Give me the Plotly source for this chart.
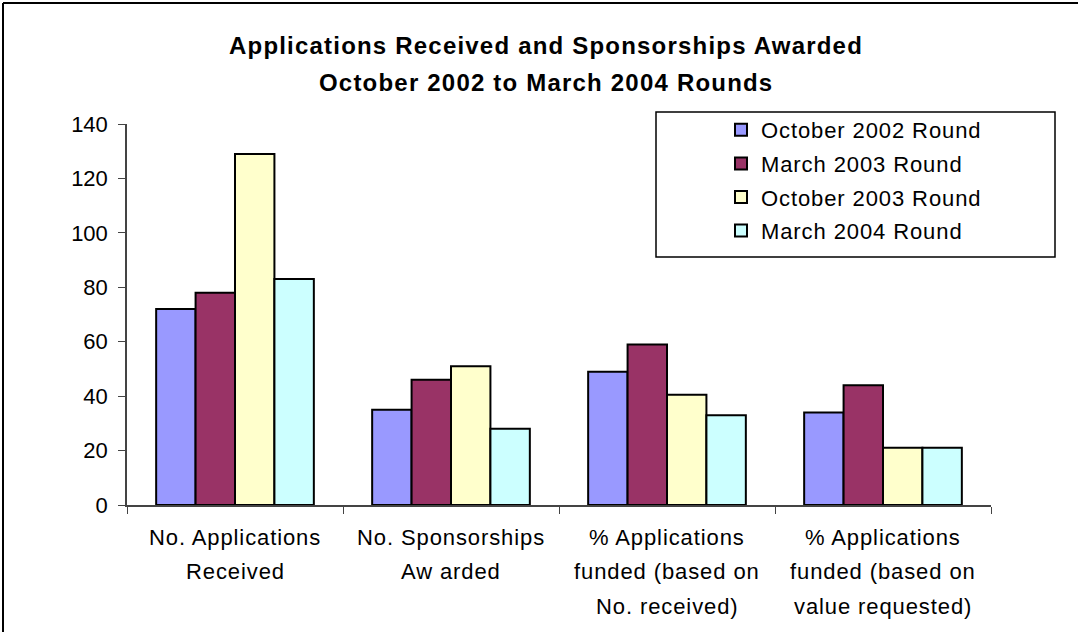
import plotly.graph_objects as go

categories = ["No. Applications Received", "No. Sponsorships Awarded",
              "% Applications funded (based on No. received)",
              "% Applications funded (based on value requested)"]
label_lines = [["No. Applications", "Received"],
               ["No. Sponsorships", "Aw arded"],
               ["% Applications", "funded (based on", "No. received)"],
               ["% Applications", "funded (based on", "value requested)"]]
series_names = ["October 2002 Round", "March 2003 Round", "October 2003 Round", "March 2004 Round"]
oct2002 = [72, 35, 49, 34]
mar2003 = [78, 46, 59, 44]
oct2003 = [129, 51, 40.5, 21]
mar2004 = [83, 28, 33, 21]
colors = ["#9999FF", "#993366", "#FFFFCC", "#CCFFFF"]
title_lines = ["Applications Received and Sponsorships Awarded",
               "October 2002 to March 2004 Rounds"]

FONT = "Liberation Sans, Arial, sans-serif"
W, H = 1078, 632
L, R, T, B = 127, 87, 124, 127
PW, PH = W - L - R, H - T - B


def px(x):
    return (x - L) / PW


def py(y):
    return (H - B - y) / PH


def spaced(txt, ls):
    return '<span style="letter-spacing:%spx">%s</span>' % (ls, txt)


fig = go.Figure()
for i, (name, vals) in enumerate(zip(series_names, [oct2002, mar2003, oct2003, mar2004])):
    fig.add_trace(go.Bar(
        x=categories, y=vals, name=spaced(name, 0.9), legendgroup=name,
        marker=dict(color=colors[i], line=dict(color="black", width=2)),
    ))

fig.update_layout(
    width=W, height=H,
    margin=dict(l=L, r=R, t=T, b=B, autoexpand=False),
    paper_bgcolor="white", plot_bgcolor="white",
    barmode="group", bargap=0.27, bargroupgap=0,
    font=dict(family=FONT, size=22, color="black"),
    showlegend=True,
    legend=dict(x=px(721), y=py(109), xanchor="left", yanchor="top",
                bgcolor="rgba(0,0,0,0)", borderwidth=0,
                traceorder="grouped", tracegroupgap=2,
                font=dict(family=FONT, size=22, color="black")),
    xaxis=dict(type="category", showticklabels=False, ticks="outside", ticklen=7,
               tickson="boundaries", tickcolor="#444", linecolor="#444", linewidth=1.5,
               showline=True, showgrid=False, zeroline=False, fixedrange=True),
    yaxis=dict(range=[0, 140], dtick=20, ticks="outside", ticklen=7, tickcolor="#444",
               showline=True, linecolor="#444", linewidth=1.5, showgrid=False,
               zeroline=False, tickfont=dict(family=FONT, size=22, color="black"),
               ticklabelstandoff=6, fixedrange=True),
)

# title
for txt, yc in zip(title_lines, [46, 82]):
    fig.add_annotation(text="<b>%s</b>" % spaced(txt, 1.2), xref="paper", yref="paper",
                       x=px(546), y=py(yc), xanchor="center", yanchor="middle",
                       showarrow=False, font=dict(family=FONT, size=24, color="black"))

# category labels
for cat, lines in zip(categories, label_lines):
    for k, line in enumerate(lines):
        fig.add_annotation(text=spaced(line, 0.9), xref="x", yref="paper", x=cat, y=0,
                           yanchor="middle", xanchor="center", yshift=-(32 + 34.5 * k),
                           showarrow=False, font=dict(family=FONT, size=22, color="black"))

# legend box
fig.add_shape(type="rect", xref="paper", yref="paper",
              x0=px(656), x1=px(1055), y0=py(257), y1=py(112),
              line=dict(color="black", width=1.5), fillcolor="rgba(0,0,0,0)")

# outer frame (top and left edges visible)
fig.add_shape(type="line", xref="paper", yref="paper",
              x0=px(3), x1=px(1078), y0=py(3), y1=py(3), line=dict(color="black", width=2))
fig.add_shape(type="line", xref="paper", yref="paper",
              x0=px(3), x1=px(3), y0=py(3), y1=py(632), line=dict(color="black", width=2))

fig.write_html("out.html", config={"displayModeBar": False},
               post_script="document.body.style.margin='0';")
